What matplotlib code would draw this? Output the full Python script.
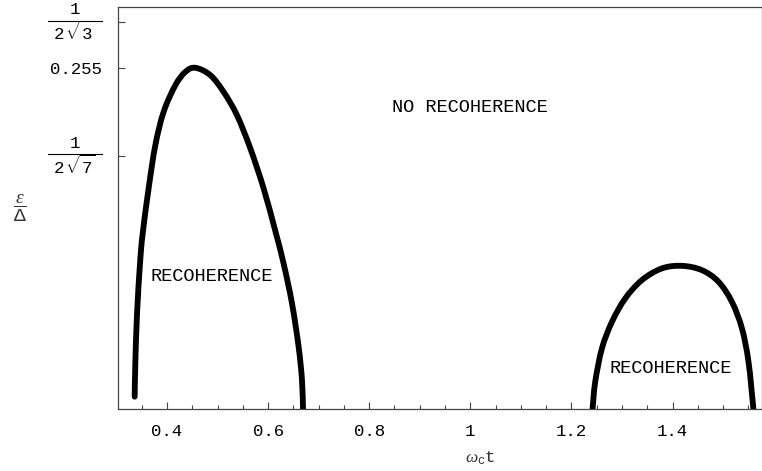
import numpy as np
import matplotlib
matplotlib.use("Agg")
import matplotlib.pyplot as plt
from matplotlib.path import Path
from matplotlib.patches import PathPatch
from matplotlib.lines import Line2D
from matplotlib.ticker import FixedLocator
import matplotlib.transforms as mtransforms

# data: first recoherence lobe
lobe1_x = [0.336, 0.3373, 0.3407, 0.3466, 0.3515, 0.3636, 0.3769, 0.3933, 0.4165,
           0.4362, 0.456, 0.4857, 0.5119, 0.5384, 0.5648, 0.5911, 0.6142, 0.6306,
           0.6472, 0.6603, 0.667, 0.669]
lobe1_y = [0.0092, 0.0341, 0.0714, 0.1087, 0.1299, 0.1647, 0.197, 0.2219, 0.2418,
           0.2517, 0.2548, 0.2493, 0.2368, 0.2194, 0.1946, 0.1647, 0.1330, 0.1087,
           0.0789, 0.0465, 0.0216, 0.0]

# second lobe
lobe2_x = [1.2418, 1.2471, 1.2604, 1.2802, 1.3065, 1.3395, 1.379, 1.4186, 1.458,
           1.491, 1.5175, 1.5373, 1.5503, 1.560]
lobe2_y = [0.0, 0.0204, 0.0453, 0.0651, 0.0826, 0.0963, 0.105, 0.1069, 0.1037,
           0.095, 0.080, 0.0602, 0.0353, 0.0]

xticks = [0.4, 0.6, 0.8, 1.0, 1.2, 1.4]
xtick_labels = ["0.4", "0.6", "0.8", "1", "1.2", "1.4"]
yticks = [1 / (2 * np.sqrt(7)), 0.255, 1 / (2 * np.sqrt(3))]
ytick_labels = ["", "0.255", ""]
# fractions drawn by hand as numerator / bar / denominator
frac_ticks = [1 / (2 * np.sqrt(7)), 1 / (2 * np.sqrt(3))]
frac_num = ["1", "1"]
frac_den = [r"$2\,\sqrt{7}$", r"$2\,\sqrt{3}$"]

mono = "Liberation Mono"
grey = "#444444"
plt.rcParams["mathtext.fontset"] = "custom"
plt.rcParams["mathtext.rm"] = "Liberation Mono"
plt.rcParams["mathtext.tt"] = "Liberation Mono"
plt.rcParams["mathtext.it"] = "Liberation Serif:italic"


def smooth_path(xs, ys):
    # catmull-rom through the read points, drawn as cubic bezier pieces
    p = np.column_stack([xs, ys])
    n = len(p)
    verts = [p[0]]
    codes = [Path.MOVETO]
    for i in range(n - 1):
        p0 = p[i - 1] if i > 0 else p[i]
        p3 = p[i + 2] if i + 2 < n else p[i + 1]
        c1 = p[i] + (p[i + 1] - p0) / 6.0
        c2 = p[i + 1] - (p3 - p[i]) / 6.0
        verts += [c1, c2, p[i + 1]]
        codes += [Path.CURVE4] * 3
    return Path(verts, codes)


fig = plt.figure(figsize=(7.62, 4.71), dpi=100)
ax = fig.add_axes([0.1555, 0.1316, 0.8445, 0.853])

for xs, ys in [(lobe1_x, lobe1_y), (lobe2_x, lobe2_y)]:
    patch = PathPatch(smooth_path(xs, ys), fill=False, edgecolor="black",
                      lw=4.2, capstyle="round")
    ax.add_patch(patch)

ax.set_xticks(xticks)
ax.set_xticklabels(xtick_labels, family=mono, fontsize=12.5)
ax.xaxis.set_minor_locator(FixedLocator([0.35 + 0.05 * i for i in range(25)
                                         if round(0.35 + 0.05 * i, 2) not in xticks]))
ax.set_yticks(yticks)
ax.set_yticklabels(ytick_labels, family=mono, fontsize=12.5)

ax.tick_params(axis="both", which="major", direction="in", length=5, width=0.8,
               color=grey)
ax.tick_params(axis="x", which="minor", direction="in", length=3, width=0.8,
               color=grey)
ax.tick_params(axis="x", pad=11)
ax.tick_params(axis="y", pad=12)
for s in ax.spines.values():
    s.set_color(grey)
    s.set_linewidth(0.9)

# fraction tick labels on the y axis
ytrans = ax.get_yaxis_transform()
for yv, num, den in zip(frac_ticks, frac_num, frac_den):
    ax.annotate(num, xy=(0, yv), xycoords=ytrans, xytext=(-44, 8),
                textcoords="offset pixels", ha="center", va="baseline",
                family=mono, fontsize=12.5, annotation_clip=False)
    ax.annotate(den, xy=(0, yv), xycoords=ytrans, xytext=(-44, -18),
                textcoords="offset pixels", ha="center", va="baseline",
                fontsize=12.5, annotation_clip=False)
    bar_tr = mtransforms.offset_copy(ytrans, fig=fig, x=0, y=1.6, units="dots")
    ax.add_line(Line2D([-0.109, -0.026], [yv, yv], transform=bar_tr,
                       color="black", lw=0.8, clip_on=False))

ax.set_xlim(0.304, 1.577)
ax.set_ylim(0, 0.3)

ax.text(1.0, 0.225, "NO RECOHERENCE", family=mono, fontsize=13.4,
        ha="center", va="center")
ax.text(0.489, 0.0993, "RECOHERENCE", family=mono, fontsize=13.4,
        ha="center", va="center")
ax.text(1.397, 0.0304, "RECOHERENCE", family=mono, fontsize=13.4,
        ha="center", va="center")

fig.text(480 / 762, 1 - 458 / 471, r"$\omega_{\mathtt{c}}\mathtt{t}$",
         fontsize=12.5, ha="center", va="center", color="#333333")
fig.text(20 / 762, 1 - 208 / 471, r"$\dfrac{\epsilon}{\Delta}$",
         fontsize=14, ha="center", va="center", color="#333333")

fig.savefig("out.png", dpi=100)
